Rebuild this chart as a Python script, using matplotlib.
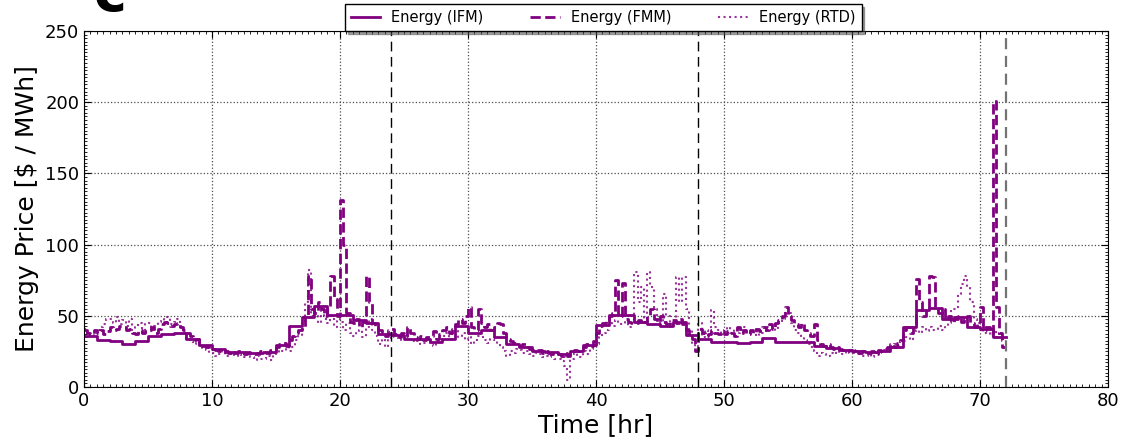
import numpy as np
import matplotlib
matplotlib.use("Agg")
import matplotlib.pyplot as plt
from matplotlib.ticker import MultipleLocator

# hourly day-ahead (IFM) prices, $/MWh
ifm = [36, 33, 32, 30, 32, 35.5, 37.2, 37.7, 34, 29.5, 26.5, 24.9,
       24.4, 23.7, 24.4, 29.5, 43, 49.3, 56.9, 50.7, 50.7, 47, 45, 37.2,
       36.5, 33.7, 33.7, 31.5, 34, 42.8, 38, 40, 35.3, 30.4, 28.3, 25.5,
       24.4, 23.2, 25.5, 29.5, 43.2, 50.3, 50.3, 46, 44.4, 43, 45.6, 36.3,
       33.5, 31.8, 31.4, 30.7, 31.4, 34.7, 31.8, 31.8, 31.4, 29, 27.2, 25.8,
       25.3, 24.9, 25.5, 28.3, 42.3, 54, 55.7, 47.7, 48.9, 42.3, 40.7, 34.8]

# 15-minute market (FMM) prices, one row per hour
fmm = [40, 38, 37, 40,  38, 40, 37, 39,  42, 40, 41, 43,  42, 40, 41, 38,
       37, 40, 38, 39,  40, 42, 38, 41,  44, 46, 45, 43,  44, 45, 42, 40,
       38, 36, 33, 34,  30, 29, 28, 27,  27, 26, 25, 26,  25, 24, 25, 24,
       25, 24, 23, 24,  24, 23, 24, 25,  25, 24, 26, 27,  28, 30, 31, 29,
       33, 36, 38, 40,  42, 50, 78, 55,  52, 60, 55, 50,  55, 78, 62, 50,
       131, 100, 52, 46,  45, 48, 42, 46,  78, 60, 45, 42,  40, 38, 36, 40,
       41, 37, 35, 38,  36, 42, 38, 35,  34, 36, 33, 35,  36, 39, 34, 37,
       40, 42, 38, 41,  44, 48, 45, 50,  56, 42, 40, 55,  45, 42, 44, 40,
       42, 45, 44, 38,  34, 32, 31, 30,  29, 30, 28, 27,  26, 25, 26, 24,
       25, 24, 23, 24,  23, 22, 24, 22,  24, 26, 25, 27,  28, 30, 29, 32,
       38, 43, 45, 48,  50, 52, 75, 50,  73, 48, 46, 45,  45, 47, 44, 46,
       50, 55, 48, 46,  50, 46, 44, 47,  47, 45, 48, 44,  40, 36, 34, 25,
       41, 38, 36, 37,  40, 38, 37, 39,  37, 39, 38, 36,  42, 38, 40, 37,
       40, 38, 41, 39,  42, 40, 44, 41,  45, 47, 50, 56,  50, 47, 44, 42,
       45, 40, 38, 36,  44, 33, 30, 29,  30, 28, 27, 28,  27, 26, 25, 26,
       25, 26, 24, 25,  25, 24, 25, 23,  26, 25, 27, 28,  30, 28, 31, 33,
       40, 42, 38, 44,  76, 60, 50, 55,  78, 77, 55, 52,  55, 48, 50, 46,
       48, 50, 46, 48,  50, 45, 42, 44,  56, 40, 42, 38,  201, 56, 38, 28]

# real-time dispatch (RTD) prices, averaged to 15 minutes
rtd = [41, 38, 36, 39,  40, 42, 44, 48,  48, 45, 49, 44,  47, 43, 48, 40,
       42, 45, 38, 44,  45, 40, 43, 46,  48, 46, 49, 44,  46, 48, 42, 38,
       34, 32, 30, 31,  28, 27, 26, 24,  24, 22, 23, 25,  22, 23, 24, 22,
       23, 22, 21, 23,  21, 19, 22, 20,  20, 22, 19, 23,  24, 26, 25, 28,
       25, 28, 33, 36,  45, 60, 82, 50,  50, 45, 55, 48,  45, 50, 42, 48,
       46, 40, 45, 38,  36, 38, 40, 35,  42, 48, 40, 36,  30, 34, 28, 33,
       38, 35, 33, 36,  34, 36, 32, 33,  32, 30, 31, 33,  30, 29, 32, 34,
       36, 38, 34, 37,  40, 35, 38, 33,  35, 30, 33, 36,  35, 33, 31, 34,
       33, 30, 28, 25,  22, 25, 24, 27,  26, 24, 25, 23,  22, 24, 23, 21,
       22, 21, 23, 20,  20, 18, 15, 5,  20, 24, 22, 21,  25, 23, 27, 28,
       30, 35, 38, 40,  45, 43, 47, 44,  44, 46, 42, 45,  81, 60, 70, 48,
       81, 70, 55, 48,  45, 65, 50, 42,  44, 77, 60, 77,  55, 40, 30, 28,
       45, 35, 40, 38,  54, 42, 40, 38,  40, 42, 38, 41,  38, 40, 42, 39,
       38, 41, 36, 40,  38, 42, 40, 44,  40, 45, 48, 52,  52, 45, 40, 38,
       35, 33, 30, 28,  25, 22, 24, 23,  22, 24, 23, 25,  24, 23, 25, 24,
       24, 25, 23, 22,  22, 23, 21, 24,  24, 25, 26, 27,  28, 30, 29, 32,
       32, 35, 33, 38,  40, 38, 42, 39,  42, 40, 41, 43,  40, 42, 45, 55,
       55, 65, 72, 78,  70, 60, 48, 45,  45, 38, 42, 36,  40, 35, 38, 32]

day_marks = [24, 48, 72]
color = "purple"


def step_series(values, dt):
    t = np.arange(len(values) + 1) * dt
    v = list(values) + [values[-1]]
    return t, v


plt.rcParams["font.family"] = "DejaVu Sans"
fig = plt.figure(figsize=(11.32, 4.42), dpi=100)
ax = fig.add_axes([0.0742, 0.1244, 0.9046, 0.8055])

t, v = step_series(rtd, 0.25)
ax.step(t, v, where="post", color=color, ls=":", lw=1.5, alpha=0.8, label="Energy (RTD)")
t, v = step_series(fmm, 0.25)
ax.step(t, v, where="post", color=color, ls="--", lw=2, label="Energy (FMM)")
t, v = step_series(ifm, 1.0)
ax.step(t, v, where="post", color=color, ls="-", lw=2, label="Energy (IFM)")

for d in day_marks[:-1]:
    ax.axvline(d, color="black", ls=(0, (7, 4)), lw=1)
ax.axvline(day_marks[-1], color="0.45", ls=(0, (5, 3)), lw=1.6)

ax.set_xlim(0, 80)
ax.set_ylim(0, 250)
ax.xaxis.set_major_locator(MultipleLocator(10))
ax.yaxis.set_major_locator(MultipleLocator(50))
ax.xaxis.set_minor_locator(MultipleLocator(0.5))
ax.yaxis.set_minor_locator(MultipleLocator(2.5))
ax.tick_params(which="both", direction="in", top=True, right=True, labelsize=13)
ax.tick_params(which="major", length=5)
ax.tick_params(which="minor", length=2, width=0.6)
ax.grid(True, which="major", color="0.3", ls=":", lw=0.9)
ax.set_axisbelow(True)

ax.set_xlabel("Time [hr]", fontsize=18, labelpad=2)
ax.set_ylabel("Energy Price [$ / MWh]", fontsize=18)

handles, labels = ax.get_legend_handles_labels()
order = [2, 1, 0]
ax.legend([handles[i] for i in order], [labels[i] for i in order],
          loc="lower center", bbox_to_anchor=(0.507, 1.0), ncol=3,
          fontsize=10.5, frameon=True, shadow=True, fancybox=False,
          borderaxespad=0, columnspacing=3.2, edgecolor="black")

fig.text(0.083, 0.975, "c", fontsize=40, fontweight="bold", va="baseline")

fig.savefig("out.png", dpi=100)
